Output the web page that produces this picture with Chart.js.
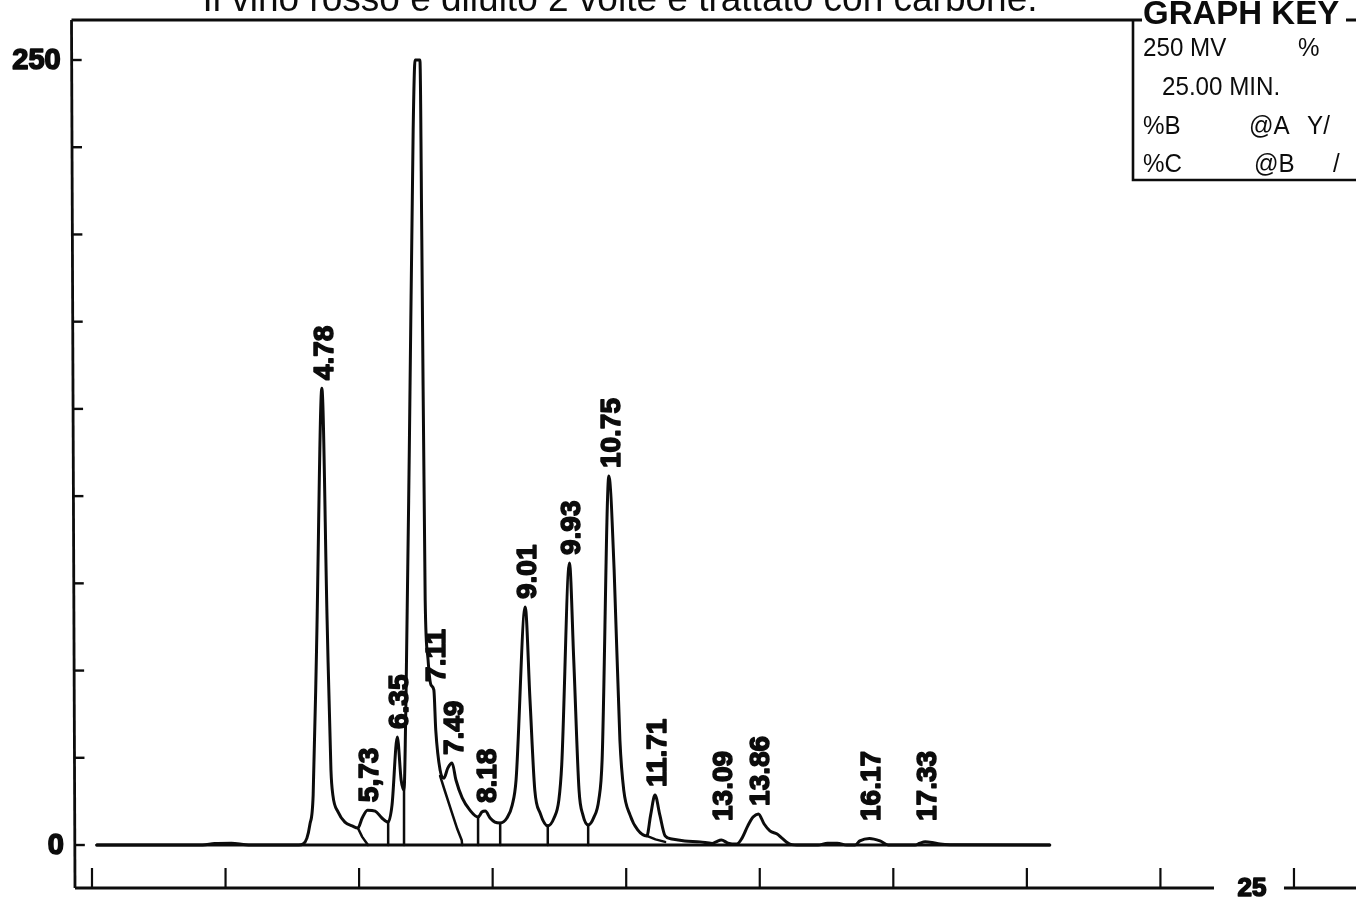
<!DOCTYPE html>
<html lang="it">
<head>
<meta charset="utf-8">
<title>Cromatogramma – vino rosso</title>
<script src="https://cdn.jsdelivr.net/npm/chart.js@4.4.1/dist/chart.umd.min.js"></script>
<style>
  html, body { margin: 0; padding: 0; background: #fff; }
  #wrap { position: relative; width: 1356px; height: 898px; }
</style>
</head>
<body>
<div id="wrap"><canvas id="chrom"></canvas></div>
<script>
const chartTitle = 'Il vino rosso è diluito 2 volte e trattato con carbone.';

// detector trace: retention time (min) and signal (mV)
const signalTime = [
  0.10, 2.30, 2.55, 2.90, 3.20, 3.50, 4.30, 4.39, 4.47, 4.53, 4.60, 4.67, 4.78,
  4.89, 4.97, 5.01, 5.12, 5.26, 5.41, 5.53, 5.62, 5.73, 5.89, 6.03, 6.16,
  6.24, 6.35, 6.43, 6.49, 6.53, 6.60, 6.68, 6.72, 6.82, 6.86, 6.93, 6.99,
  7.05, 7.11, 7.15, 7.24, 7.32, 7.40, 7.49, 7.57, 7.70, 7.86, 8.03, 8.11,
  8.18, 8.28, 8.38, 8.49, 8.63, 8.74, 8.82, 9.01, 9.11, 9.21, 9.32, 9.48,
  9.61, 9.71, 9.77, 9.93, 10.02, 10.13, 10.21, 10.32, 10.44, 10.54, 10.61,
  10.75, 10.86, 10.98, 11.06, 11.19, 11.35, 11.54, 11.62, 11.71, 11.81,
  11.92, 12.06, 12.33, 12.65, 12.90, 12.98, 13.09, 13.23, 13.41, 13.52,
  13.64, 13.75, 13.86, 13.98, 14.10, 14.25, 14.35, 14.52, 14.73, 15.10,
  15.30, 15.50, 15.70, 15.87, 15.97, 16.17, 16.39, 16.56, 17.12, 17.22,
  17.33, 17.47, 17.64, 17.85, 19.92
];
const signalMv = [
  0, 0, 0.5, 0.6, 0.1, 0, 0, 0.3, 2.2, 6.4, 15.9, 62, 145.5,
  71.7, 23.9, 15.9, 10.5, 7.3, 6.1, 5.4, 8.6, 11.1, 10.8, 8.6, 7.3,
  12.7, 34.4, 20.7, 17.5, 46, 126, 227.7, 250, 250, 192.7, 78, 59,
  51, 49.4, 36.6, 23.9, 21.3, 24.5, 26.1, 20.7, 15, 11.1, 8.9, 10.5,
  10.8, 8.6, 7.3, 7.0, 8.6, 12.7, 20.7, 75.8, 46.2, 17.5, 10.2, 6.1,
  8.6, 14.3, 25.5, 89.8, 58.9, 17.5, 9.6, 6.4, 8.9, 14.3, 27.1,
  117.5, 87.6, 33.4, 17.5, 9.6, 4.8, 2.9, 9.6, 15.9, 9.6,
  2.9, 1.9, 1.3, 1.0, 0.5, 1.0, 1.6, 0.6, 0.3, 2.2,
  6.1, 8.9, 9.9, 6.7, 4.5, 3.5, 2.2, 0.3, 0, 0,
  0.6, 0.6, 0, 0, 1.3, 2.1, 1.3, 0, 0, 0.6,
  1.0, 0.8, 0.3, 0.1, 0
];

// integrator baseline under the whole run
const baselineTime = [0.10, 19.92];
const baselineMv = [0, 0];

// perpendicular drops from the valleys to the baseline
const dropTime = [6.16, 6.49, 8.03, 8.49, 9.48, 10.32];
const dropMv = [7.3, 17.5, 8.9, 7.0, 6.1, 6.4];

// tangent skims under fused peaks (null separates the skims)
const skimTime = [5.53, 5.62, 5.74, null, 7.24, 7.34, 7.47, 7.60, 7.69, 7.70, null, 11.54, 11.72, 11.92];
const skimMv = [5.4, 2.6, 0, null, 22.0, 17.2, 11.0, 5.0, 1.5, 0, null, 2.9, 1.8, 1.0];

// retention times printed above the peaks
const peakTimes = [4.78, 5.73, 6.35, 7.11, 7.49, 8.18, 9.01, 9.93, 10.75, 11.71, 13.09, 13.86, 16.17, 17.33];
const peakLabels = ['4.78', '5,73', '6.35', '7.11', '7.49', '8.18', '9.01', '9.93', '10.75', '11.71', '13.09', '13.86', '16.17', '17.33'];

// axis end labels
const mvFullScale = 250;
const minutesFullScale = 25;
const yEndLabels = ['0', '250'];
const xEndLabel = '25';

// plotter parameter block
const keyTitle = 'GRAPH KEY';
const keyRows = [
  ['250 MV', '%'],
  ['25.00 MIN.'],
  ['%B', '@A', 'Y/'],
  ['%C', '@B', '/']
];

const pts = (xs, ys) => xs.map((t, i) => ({ x: t, y: ys[i] }));
const dropPts = [];
dropTime.forEach((t, i) => {
  dropPts.push({ x: t, y: dropMv[i] }, { x: t, y: 0 }, { x: t, y: null });
});

const INK = '#0c0c0c';
const SANS = '"Liberation Sans", Arial, Helvetica, sans-serif';

// lettering of the plotter: slightly narrowed glyphs
function narrowText(ctx, txt, px, py, squeeze) {
  ctx.save();
  ctx.translate(px, py);
  ctx.scale(squeeze, 1);
  ctx.fillText(txt, 0, 0);
  ctx.restore();
}

// heavy numerals: filled and traced with a round pen
function heavyText(ctx, txt, px, py, pen) {
  ctx.save();
  ctx.lineWidth = pen;
  ctx.lineJoin = 'round';
  ctx.fillText(txt, px, py);
  ctx.strokeText(txt, px, py);
  ctx.restore();
}

const plotterFrame = {
  id: 'plotterFrame',
  afterDatasetsDraw(chart) {
    const { ctx, chartArea: a, scales: { x, y } } = chart;
    ctx.save();
    ctx.strokeStyle = INK;
    ctx.fillStyle = INK;
    ctx.lineWidth = 2.8;
    ctx.lineCap = 'butt';

    // title (its upper half runs off the top of the sheet)
    ctx.font = '37px ' + SANS;
    ctx.textAlign = 'center';
    ctx.textBaseline = 'alphabetic';
    ctx.fillText(chartTitle, 620, 11);

    // left axis, drawn with a slight lean of the plotter pen
    const axisTopX = a.left - 1.5, axisBotX = a.left + 2;
    const axisXAt = py => axisTopX + (axisBotX - axisTopX) * (py - a.top) / (a.bottom - a.top);
    ctx.beginPath();
    ctx.moveTo(axisTopX, a.top);
    ctx.lineTo(axisBotX, a.bottom);
    ctx.stroke();

    // mV ticks: nine divisions up to full scale, pointing inward
    ctx.lineWidth = 2.4;
    for (let k = 0; k <= 9; k++) {
      const py = y.getPixelForValue(mvFullScale * k / 9);
      const ax = axisXAt(py);
      ctx.beginPath();
      ctx.moveTo(ax, py);
      ctx.lineTo(ax + 10, py);
      ctx.stroke();
    }
    ctx.font = 'bold 29px ' + SANS;
    ctx.textAlign = 'right';
    ctx.textBaseline = 'middle';
    [0, mvFullScale].forEach((v, i) => {
      const py = y.getPixelForValue(v);
      heavyText(ctx, yEndLabels[i], axisXAt(py) - 11, py + 1, 1.6);
    });

    // top border, interrupted by the key heading
    ctx.lineWidth = 2.8;
    const keyLeft = 1133;
    ctx.beginPath();
    ctx.moveTo(axisTopX, a.top);
    ctx.lineTo(keyLeft + 9, a.top);
    ctx.moveTo(1346, a.top);
    ctx.lineTo(a.right, a.top);
    ctx.stroke();

    // time axis with the end label set into a gap
    const endPx = x.getPixelForValue(minutesFullScale);
    const labelCx = endPx - 42;
    ctx.beginPath();
    ctx.moveTo(axisBotX, a.bottom);
    ctx.lineTo(labelCx - 38, a.bottom);
    ctx.moveTo(labelCx + 32, a.bottom);
    ctx.lineTo(a.right, a.bottom);
    ctx.stroke();
    ctx.lineWidth = 2.2;
    for (let k = 0; k <= 9; k++) {
      const px = x.getPixelForValue(minutesFullScale * k / 9);
      ctx.beginPath();
      ctx.moveTo(px, a.bottom);
      ctx.lineTo(px, a.bottom - 20);
      ctx.stroke();
    }
    ctx.font = 'bold 26px ' + SANS;
    ctx.textAlign = 'center';
    ctx.textBaseline = 'middle';
    heavyText(ctx, xEndLabel, labelCx, a.bottom + 1, 1.6);

    // graph key box
    ctx.lineWidth = 2.6;
    const keyBottom = 180;
    ctx.beginPath();
    ctx.moveTo(keyLeft, a.top);
    ctx.lineTo(keyLeft, keyBottom);
    ctx.lineTo(a.right, keyBottom);
    ctx.stroke();
    ctx.textAlign = 'left';
    ctx.textBaseline = 'middle';
    ctx.font = 'bold 33px ' + SANS;
    ctx.fillText(keyTitle, 1143, 15);
    ctx.font = '26px ' + SANS;
    const rowY = [49, 88, 127, 165];
    const colX = [[1143, 1298], [1162], [1143, 1249, 1307], [1143, 1254, 1333]];
    keyRows.forEach((row, r) => {
      row.forEach((txt, c) => narrowText(ctx, txt, colX[r][c], rowY[r], 0.93));
    });

    // retention-time labels, rotated, sitting on each apex
    ctx.font = 'bold 28px ' + SANS;
    ctx.textAlign = 'left';
    ctx.textBaseline = 'middle';
    const base = y.getPixelForValue(0);
    peakTimes.forEach((t, i) => {
      const j = signalTime.indexOf(t);
      const px = x.getPixelForValue(t);
      const apexY = y.getPixelForValue(signalMv[j]);
      const startY = Math.min(apexY - 8, base - 24);
      ctx.save();
      ctx.translate(px + 3, startY);
      ctx.rotate(-Math.PI / 2);
      heavyText(ctx, peakLabels[i], 0, 0, 1.5);
      ctx.restore();
    });
    ctx.restore();
  }
};

const lineStyle = {
  borderColor: INK,
  borderWidth: 3,
  pointRadius: 0,
  fill: false,
  spanGaps: false,
  borderCapStyle: 'round',
  borderJoinStyle: 'round'
};

new Chart(document.getElementById('chrom'), {
  type: 'line',
  data: {
    datasets: [
      Object.assign({ label: 'segnale', data: pts(signalTime, signalMv), cubicInterpolationMode: 'monotone' }, lineStyle),
      Object.assign({ label: 'linea di base', data: pts(baselineTime, baselineMv), tension: 0 }, lineStyle),
      Object.assign({ label: 'separazioni', data: dropPts, tension: 0 }, lineStyle, { borderWidth: 2.5 }),
      Object.assign({ label: 'tangenti', data: pts(skimTime, skimMv), tension: 0 }, lineStyle, { borderWidth: 2.5 })
    ]
  },
  options: {
    responsive: true,
    maintainAspectRatio: false,
    animation: false,
    events: [],
    layout: { padding: { left: 73, top: 20, right: 0, bottom: 10 } },
    plugins: {
      legend: { display: false },
      tooltip: { enabled: false },
      title: { display: false }
    },
    scales: {
      x: { type: 'linear', display: false, min: -0.395, max: 26.29 },
      y: { type: 'linear', display: false, min: -13.69, max: 262.74 }
    }
  },
  plugins: [plotterFrame]
});
</script>
</body>
</html>
